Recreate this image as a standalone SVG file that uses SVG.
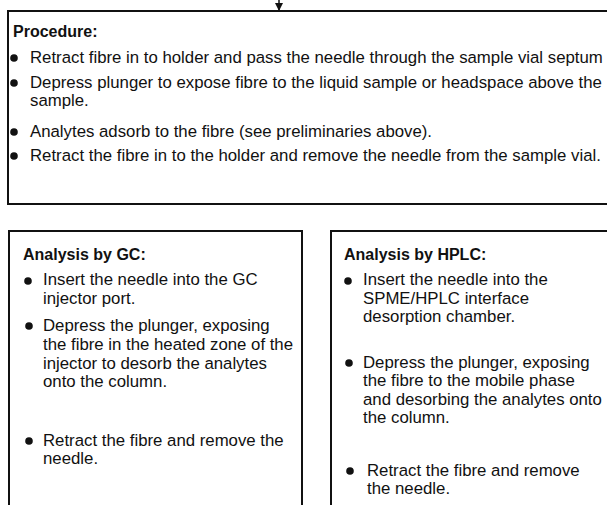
<svg xmlns="http://www.w3.org/2000/svg" width="607" height="505" viewBox="0 0 607 505">
  <style>
    .box { fill: none; stroke: #111; stroke-width: 2; }
    .txt { font-family: "Liberation Sans", Arial, sans-serif; font-size: 16.8px; fill: #111; }
    .head { font-family: "Liberation Sans", Arial, sans-serif; font-size: 16px; font-weight: bold; fill: #111; }
    .dot { fill: #111; }
  </style>
  <defs>
    <marker id="arrow" viewBox="0 0 10 10" refX="10" refY="5" markerWidth="9" markerHeight="8" markerUnits="userSpaceOnUse" orient="auto">
      <path d="M0,0 L10,5 L0,10 z" fill="#111"/>
    </marker>
  </defs>

  <!-- incoming flow arrow onto the procedure box -->
  <g id="connectors">
    <line x1="279" y1="0" x2="279" y2="11" stroke="#111" stroke-width="1.5" marker-end="url(#arrow)"/>
  </g>

  <g id="procedure">
    <rect class="box" x="8" y="11" width="620" height="193"/>
    <text class="head" x="13" y="37">Procedure:</text>
    <circle class="dot" cx="14" cy="58" r="3.8"/>
    <text class="txt" x="30" y="63">Retract fibre in to holder and pass the needle through the sample vial septum</text>
    <circle class="dot" cx="14" cy="83" r="3.8"/>
    <text class="txt" x="30" y="88">Depress plunger to expose fibre to the liquid sample or headspace above the</text>
    <text class="txt" x="30" y="106">sample.</text>
    <circle class="dot" cx="14" cy="132" r="3.8"/>
    <text class="txt" x="30" y="137">Analytes adsorb to the fibre (see preliminaries above).</text>
    <circle class="dot" cx="14" cy="156" r="3.8"/>
    <text class="txt" x="30" y="161">Retract the fibre in to the holder and remove the needle from the sample vial.</text>
  </g>

  <g id="analysis-gc">
    <path class="box" d="M9,510 V231 H302 V510"/>
    <text class="head" x="23" y="260">Analysis by GC:</text>
    <circle class="dot" cx="28" cy="281" r="3.8"/>
    <text class="txt" x="43" y="285">Insert the needle into the GC</text>
    <text class="txt" x="43" y="304">injector port.</text>
    <circle class="dot" cx="29" cy="326" r="3.8"/>
    <text class="txt" x="43" y="331">Depress the plunger, exposing</text>
    <text class="txt" x="43" y="350">the fibre in the heated zone of the</text>
    <text class="txt" x="43" y="369">injector to desorb the analytes</text>
    <text class="txt" x="43" y="387">onto the column.</text>
    <circle class="dot" cx="29" cy="441" r="3.8"/>
    <text class="txt" x="43" y="446">Retract the fibre and remove the</text>
    <text class="txt" x="43" y="464">needle.</text>
  </g>

  <g id="analysis-hplc">
    <path class="box" d="M331,510 V231 H620"/>
    <text class="head" x="344" y="260">Analysis by HPLC:</text>
    <circle class="dot" cx="348" cy="281" r="3.8"/>
    <text class="txt" x="363" y="285">Insert the needle into the</text>
    <text class="txt" x="363" y="304">SPME/HPLC interface</text>
    <text class="txt" x="363" y="322">desorption chamber.</text>
    <circle class="dot" cx="349" cy="363" r="3.8"/>
    <text class="txt" x="363" y="368">Depress the plunger, exposing</text>
    <text class="txt" x="363" y="386">the fibre to the mobile phase</text>
    <text class="txt" x="363" y="405">and desorbing the analytes onto</text>
    <text class="txt" x="363" y="423">the column.</text>
    <circle class="dot" cx="350" cy="471" r="3.8"/>
    <text class="txt" x="367" y="476">Retract the fibre and remove</text>
    <text class="txt" x="367" y="494">the needle.</text>
  </g>
</svg>
